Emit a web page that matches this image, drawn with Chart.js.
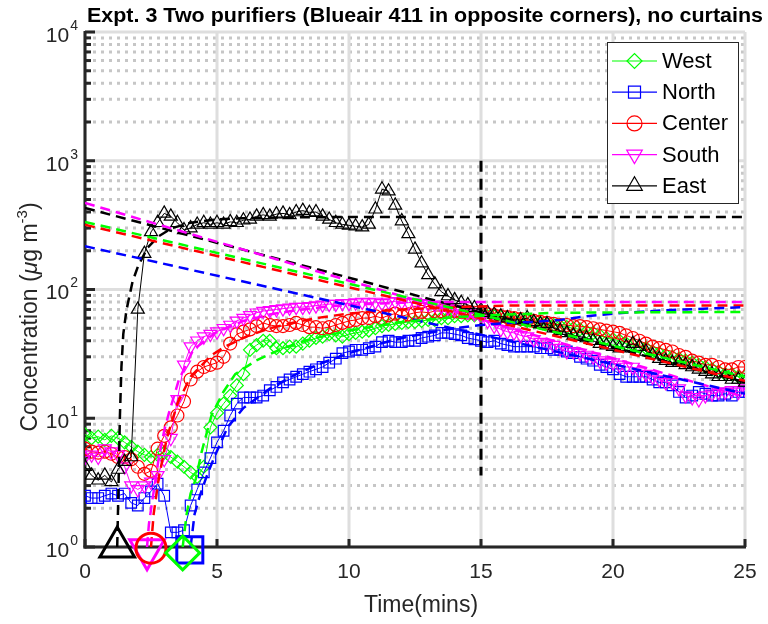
<!DOCTYPE html>
<html>
<head>
<meta charset="utf-8">
<script src="https://cdn.jsdelivr.net/npm/chart.js@4.4.0/dist/chart.umd.min.js"></script>
<style>
	html, body { margin: 0; padding: 0; background: #fff; }
	canvas { display: block; }
</style>
</head>
<body>
<canvas id="chart" width="768" height="624"></canvas>
<script>
// sample times (mins)
const times = [0,0.25,0.5,0.75,1,1.25,1.5,1.75,2,2.25,2.5,2.75,3,3.25,3.5,3.75,4,4.25,4.5,4.75,
	5,5.25,5.5,5.75,6,6.25,6.5,6.75,7,7.25,7.5,7.75,8,8.25,8.5,8.75,9,9.25,9.5,9.75,
	10,10.25,10.5,10.75,11,11.25,11.5,11.75,12,12.25,12.5,12.75,13,13.25,13.5,13.75,14,14.25,14.5,14.75,
	15,15.25,15.5,15.75,16,16.25,16.5,16.75,17,17.25,17.5,17.75,18,18.25,18.5,18.75,19,19.25,19.5,19.75,
	20,20.25,20.5,20.75,21,21.25,21.5,21.75,22,22.25,22.5,22.75,23,23.25,23.5,23.75,24,24.25,24.5,24.75,25];

const seriesNames = ['West', 'North', 'Center', 'South', 'East'];

const westVals = [7.5,7.0,7.2,6.8,7.3,7.0,6.5,6.0,5.5,5.2,
	5.0,5.2,5.4,5.0,4.6,4.2,3.8,3.5,4.2,8.5,
	11,13,15,18,22,34,37,40,40,35,
	35,36,36,38,40,42,43,45,44,43,
	45,46,47,48,50,52,53,54,55,56,
	56,57,58,58,60,60,62,62,63,63,
	63,
	62,62,61,60,59,58,57,56,55,54,
	53,52,51,50,49,47,46,44,42,41,
	40,38,37,36,35,33,32,31,30,29,
	28,27,26,25,24,23,22,22,21,21];

const northVals = [2.5,2.4,2.4,2.5,2.6,2.5,2.6,2.2,2.1,2.4,
	2.7,3.1,2.5,1.3,1.3,1.35,2.1,2.8,3.8,4.9,
	6.5,8,10.5,13,14.5,14.5,14.5,15,16.5,17.5,
	19,20,21,22,23,24,25,27,29,32,
	33,34,34,35,36,39,40,39,39,40,
	40,42,43,44,46,46,45,44,42,41,
	40,
	39,40,38,37,36,36,36,36,35,35,
	34,34,33,32,30,29,28,26,25,24,
	22,21,21,21,21,20,19,19,18,16,
	14.5,15,16,15.5,15,15,15.5,15,16,16];

const centerVals = [5.8,5.5,5.4,5.5,5.3,5.0,5.0,4.8,4.2,3.7,
	3.9,5.8,7.3,8.5,10.5,13.5,20,23,25,26,
	27,30,38,45,47,49,52,55,53,52,
	52,53,55,53,51,51,50,51,53,55,
	57,58,60,60,62,60,63,65,62,64,
	66,67,66,68,68,67,68,67,66,66,
	65,
	64,63,62,61,60,59,58,57,56,55,
	54,53,53,52,52,51,50,49,48,47,
	46,44,42,40,38,36,35,34,33,31,
	30,28,27,26,26,25,24,24,25,25];

const southVals = [5.0,5.2,5.0,5.8,5.5,5.2,4.2,3.0,2.8,3.0,
	3.2,3.6,4.8,7,14,26,36,40,43,45,
	47,50,53,57,60,63,66,68,69,70,
	71,72,73,73,74,75,76,77,77,78,
	78,79,80,79,80,78,80,81,80,79,
	80,78,77,76,74,72,70,69,67,65,
	62,
	57,52,49,47,46,44,43,41,39,38,
	37,35,33,33,32,31,30,28,27,27,
	26,25,25,23,22,21,20,19,19,17,
	15,14.5,14,15,15.5,16,16,16.5,16,17];

const eastVals = [4.2,3.6,3.3,3.6,3.2,4.0,4.6,5.0,70,190,
	280,330,390,370,330,290,300,320,330,320,
	330,320,335,330,345,350,370,380,370,385,
	390,380,400,410,395,400,370,350,330,320,
	315,310,305,320,420,600,580,450,340,270,
	205,160,130,110,96,89,83,79,76,72,
	69,
	66,64,62,60,58,58,60,56,54,54,
	50,48,46,44,43,42,40,38,37,36,
	35,36,38,36,33,31,29,28,27,27,
	26,25,24,23,22,21,21,20,20,19];

// dashed fits: rising part after each start, [time, value]
const westRise = [[3.7,1],[3.85,1.8],[4.0,2.6],[4.2,3.4],[4.42,5.5],[4.79,10.5],[5.24,16],[5.69,22],[6.47,28],[7.5,35],[8.5,41],[10,48],[12,56],[14,61],[16,64],[18,66],[25,67]];
const northRise = [[4.0,1],[4.15,1.8],[4.35,2.5],[4.6,3.5],[4.9,5],[5.4,8.5],[6,12],[7,17],[8,22],[9,27],[10,32],[11,37],[12,42],[13,46],[14,50],[15,53],[16,55],[17,56],[18,58],[19,62],[20,65],[22,69],[25,73]];
const centerRise = [[2.5,1],[2.6,1.8],[2.8,3.5],[3.1,7],[3.5,13],[4.0,21],[4.8,31],[5.3,36],[6.1,43],[7,50],[8,56],[9,61],[10,65],[12,70],[14,73],[16,75],[25,75]];
const southRise = [[2.35,1],[2.42,1.5],[2.55,2.3],[2.8,5],[3.0,8],[3.18,11],[3.56,20],[4.1,34],[4.94,46],[6,57],[7,64],[8,69],[9,73],[10,76],[12,79],[14,80],[25,80]];
const eastRise = [[1.22,1],[1.27,3],[1.32,10],[1.38,25],[1.45,45],[1.57,69],[1.8,115],[2.0,150],[2.36,210],[2.8,260],[3.3,300],[4,330],[5,350],[6,358],[8,364],[11,366],[25,366]];

// dashed fits: decay lines
const westDecay = [[0,335],[25,21]];
const northDecay = [[0,217],[25,15.5]];
const centerDecay = [[0,318],[25,19.5]];
const southDecay = [[0,470],[25,14.6]];
const eastDecay = [[0,430],[25,19]];

// big start markers on the bottom
const startTimes = [3.7, 3.97, 2.5, 2.35, 1.22];
const startLevels = [0.9, 0.95, 0.98, 0.95, 1];

const cutLine = [[15,1000],[15,3.6]];

const xTicks = [0, 5, 10, 15, 20, 25];
const yExps = [0, 1, 2, 3, 4];

const allVals = [westVals, northVals, centerVals, southVals, eastVals];
const allRise = [westRise, northRise, centerRise, southRise, eastRise];
const allDecay = [westDecay, northDecay, centerDecay, southDecay, eastDecay];

const colors = ['#00ff00', '#0000ff', '#ff0000', '#ff00ff', '#000000'];
const shapes = ['rectRot', 'rect', 'circle', 'triangle', 'triangle'];
const rotations = [0, 0, 0, 180, 0];
const smallR = [6.5, 7.5, 6.5, 7.5, 7.5];
const bigR = [17, 18.4, 15, 20, 20];
const legendR = [7.5, 8.5, 7.5, 9, 9];

const FONT = '"Liberation Sans", Arial, sans-serif';
const axisColor = '#262626';

const toXY = pairs => pairs.map(([x, y]) => ({ x, y }));

const datasets = [];
seriesNames.forEach((name, i) => {
	datasets.push({
		label: 'start ' + name,
		data: [{ x: startTimes[i], y: startLevels[i] }],
		showLine: false,
		pointStyle: shapes[i],
		pointRotation: rotations[i],
		pointRadius: bigR[i],
		pointBorderWidth: 3,
		pointBorderColor: colors[i],
		pointBackgroundColor: 'rgba(0,0,0,0)',
		clip: false,
		order: 0,
	});
	[allRise[i], allDecay[i]].forEach(fit => {
		datasets.push({
			label: 'fit ' + name,
			data: toXY(fit),
			borderColor: colors[i],
			borderWidth: 2.5,
			borderDash: [10, 6],
			pointRadius: 0,
			order: 1,
		});
	});
	datasets.push({
		label: name,
		data: times.map((t, k) => ({ x: t, y: allVals[i][k] })),
		borderColor: colors[i],
		borderWidth: 1,
		pointStyle: shapes[i],
		pointRotation: rotations[i],
		pointRadius: smallR[i],
		pointBorderWidth: 1.2,
		pointBorderColor: colors[i],
		pointBackgroundColor: 'rgba(0,0,0,0)',
		order: 6 - i,
	});
});
datasets.push({
	label: 'cut',
	data: toXY(cutLine),
	borderColor: '#000',
	borderWidth: 3,
	borderDash: [11, 7],
	pointRadius: 0,
	order: 1,
});

const line = (ctx, x1, y1, x2, y2) => {
	ctx.beginPath();
	ctx.moveTo(x1, y1);
	ctx.lineTo(x2, y2);
	ctx.stroke();
};

// grid + axes under the data, like matlab's default layer
const gridPlugin = {
	id: 'gridPlugin',
	beforeDatasetsDraw(chart) {
		const { ctx, chartArea: a, scales: { x, y } } = chart;
		ctx.save();
		ctx.strokeStyle = '#c6c6c6';
		ctx.lineWidth = 3;
		ctx.setLineDash([3, 5]);
		yExps.slice(0, -1).forEach(e => {
			for (let m = 2; m <= 9; m++) {
				const py = y.getPixelForValue(m * Math.pow(10, e));
				line(ctx, a.left, py, a.right, py);
			}
		});
		ctx.setLineDash([]);
		ctx.strokeStyle = '#dedede';
		ctx.lineWidth = 3;
		yExps.forEach(e => {
			const py = y.getPixelForValue(Math.pow(10, e));
			line(ctx, a.left, py, a.right, py);
		});
		xTicks.forEach(t => {
			const px = x.getPixelForValue(t);
			line(ctx, px, a.top, px, a.bottom);
		});

		// axes
		ctx.strokeStyle = axisColor;
		ctx.lineWidth = 3;
		line(ctx, a.left, a.top - 1, a.left, a.bottom + 1.5);
		line(ctx, a.left - 1.5, a.bottom, a.right + 1, a.bottom);
		yExps.forEach((e, k) => {
			const py = y.getPixelForValue(Math.pow(10, e));
			line(ctx, a.left, py, a.left + 10, py);
			if (k < yExps.length - 1) {
				for (let m = 2; m <= 9; m++) {
					const pm = y.getPixelForValue(m * Math.pow(10, e));
					line(ctx, a.left, pm, a.left + 6, pm);
				}
			}
		});
		xTicks.forEach(t => {
			const px = x.getPixelForValue(t);
			line(ctx, px, a.bottom, px, a.bottom - 8);
		});
		ctx.restore();
	},
};

const drawParts = (ctx, parts, cx, cy) => {
	const widths = parts.map(p => {
		ctx.font = p.font;
		return ctx.measureText(p.text).width;
	});
	let px = cx - widths.reduce((s, w) => s + w, 0) / 2;
	parts.forEach((p, k) => {
		ctx.font = p.font;
		ctx.fillText(p.text, px, cy + (p.dy || 0));
		px += widths[k];
	});
};

const labelPlugin = {
	id: 'labelPlugin',
	afterDraw(chart) {
		const { ctx, chartArea: a, scales: { x, y } } = chart;
		ctx.save();
		ctx.fillStyle = axisColor;
		ctx.textBaseline = 'middle';

		// x tick labels
		ctx.textAlign = 'center';
		ctx.font = `21px ${FONT}`;
		xTicks.forEach(t => ctx.fillText(String(t), x.getPixelForValue(t), a.bottom + 25));

		// y tick labels 10^n
		yExps.forEach(e => {
			const py = y.getPixelForValue(Math.pow(10, e));
			ctx.textAlign = 'right';
			ctx.font = `14px ${FONT}`;
			ctx.fillText(String(e), 78, py - 6);
			const sw = ctx.measureText(String(e)).width;
			ctx.font = `21px ${FONT}`;
			ctx.fillText('10', 78 - sw - 1, py + 4);
		});

		// axis titles
		ctx.textAlign = 'left';
		drawParts(ctx, [{ text: 'Time(mins)', font: `23px ${FONT}` }], 421, 606);
		ctx.save();
		ctx.translate(31, 317);
		ctx.rotate(-Math.PI / 2);
		drawParts(ctx, [
			{ text: 'Concentration (', font: `23px ${FONT}` },
			{ text: 'μ', font: `italic 23px ${FONT}` },
			{ text: 'g m', font: `23px ${FONT}` },
			{ text: '-3', font: `15px ${FONT}`, dy: -8 },
			{ text: ')', font: `23px ${FONT}` },
		], 0, 0);
		ctx.restore();

		// title
		ctx.fillStyle = '#000';
		ctx.font = `bold 20px ${FONT}`;
		const title = 'Expt. 3 Two purifiers (Blueair 411 in opposite corners), no curtains';
		const tw = ctx.measureText(title).width;
		ctx.save();
		ctx.translate(87, 16);
		ctx.scale(676 / tw, 1);
		ctx.fillText(title, 0, 0);
		ctx.restore();

		// legend
		const box = { l: 607, t: 42, r: 738, b: 203 };
		ctx.fillStyle = '#fff';
		ctx.fillRect(box.l, box.t, box.r - box.l, box.b - box.t);
		ctx.strokeStyle = axisColor;
		ctx.lineWidth = 1;
		ctx.strokeRect(box.l + 0.5, box.t + 0.5, box.r - box.l, box.b - box.t);
		seriesNames.forEach((name, i) => {
			const ry = 61 + i * 31.2;
			ctx.strokeStyle = colors[i];
			ctx.lineWidth = 1.2;
			line(ctx, 612, ry, 657, ry);
			ctx.fillStyle = 'rgba(0,0,0,0)';
			Chart.helpers.drawPoint(ctx, {
				pointStyle: shapes[i],
				rotation: rotations[i],
				radius: legendR[i],
				borderWidth: 1.2,
			}, 634.5, ry);
			ctx.fillStyle = '#000';
			ctx.font = `22px ${FONT}`;
			ctx.textAlign = 'left';
			ctx.fillText(name, 662, ry + 1);
		});
		ctx.restore();
	},
};

new Chart(document.querySelector('#chart'), {
	type: 'line',
	data: { datasets },
	options: {
		responsive: false,
		animation: false,
		layout: { padding: { top: 32, right: 15, left: 0, bottom: 0 } },
		elements: { line: { tension: 0 } },
		scales: {
			x: {
				type: 'linear',
				min: 0,
				max: 25,
				grid: { display: false },
				border: { display: false },
				ticks: { display: false },
				afterFit: s => { s.height = 77; },
			},
			y: {
				type: 'logarithmic',
				min: 1,
				max: 10000,
				grid: { display: false },
				border: { display: false },
				ticks: { display: false },
				afterFit: s => { s.width = 85; },
			},
		},
		plugins: {
			legend: { display: false },
			tooltip: { enabled: false },
		},
	},
	plugins: [gridPlugin, labelPlugin],
});
</script>
</body>
</html>
